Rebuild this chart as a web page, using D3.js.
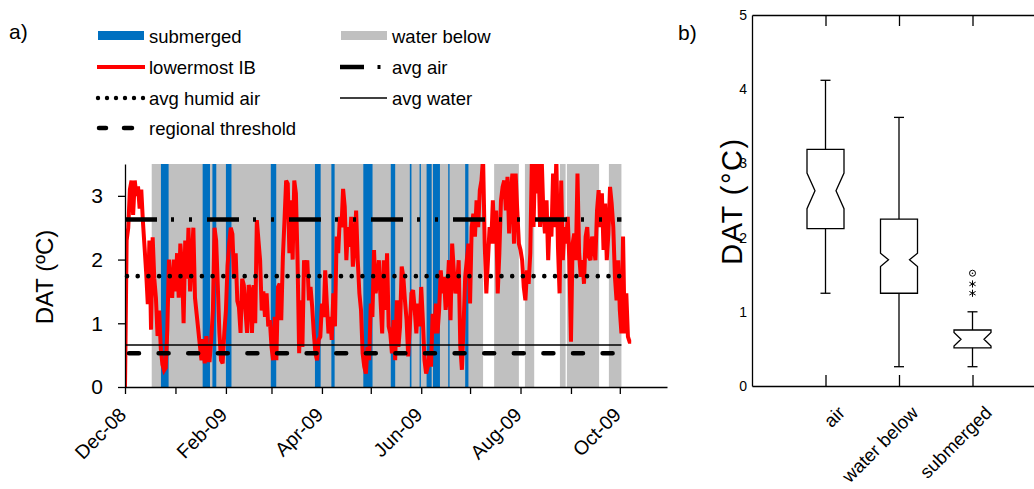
<!DOCTYPE html>
<html><head><meta charset="utf-8">
<script src="https://cdn.jsdelivr.net/npm/d3@7"></script>
<style>
body{margin:0;background:#fff}
svg{display:block}
text{font-family:"Liberation Sans",Arial,sans-serif;fill:#000}
</style>
</head><body>
<svg id="c" width="1034" height="489"></svg>
<script>
// ---------------- DATA ----------------
const seriesStart = "2008-12-01";
// daily DAT of lowermost IB (°C), one value per day from seriesStart
const lowermostIB = [
0.0, 2.3, 2.5, 3.1, 3.24, 2.7, 3.24, 3.0, 3.15, 2.8,
3.1, 2.6, 2.2, 1.8, 1.3, 2.3, 0.9, 2.35, 1.7, 1.4,
0.8, 1.2, 0.6, 0.35, 0.26, 0.3, 0.9, 2.0, 1.6, 1.4,
2.0, 1.5, 2.1, 1.4, 2.25, 1.9, 1.0, 2.3, 1.7, 2.5,
1.5, 2.0, 2.5, 1.4, 1.15, 0.9, 0.65, 0.42, 0.75, 0.37,
0.8, 0.42, 0.42, 0.75, 1.2, 2.5, 2.3, 1.6, 0.85, 0.42,
0.37, 0.85, 1.2, 1.9, 2.25, 2.5, 2.4, 1.7, 2.1, 1.35,
1.25, 0.85, 1.7, 1.6, 1.2, 0.85, 1.6,
1.5, 0.85, 1.6, 1.0, 2.62, 2.3, 1.99, 1.2, 1.5, 1.1,
1.47, 0.95, 1.05, 0.63, 0.42, 1.1, 0.42, 1.57, 1.62, 1.05,
2.04, 2.62, 3.24, 3.19, 2.1, 2.93, 2.0, 3.24, 3.04, 2.0,
0.53, 1.36, 0.63, 1.99, 1.73, 1.99, 1.36, 1.57, 1.26, 0.84,
0.53, 0.42, 0.74, 0.79, 1.31, 1.1, 1.83, 1.31, 0.84, 1.1,
0.74, 1.47, 0.95, 2.36, 2.1, 2.67, 2.51, 3.11, 2.83, 1.99,
2.51, 2.2, 2.67, 1.89, 2.2, 2.77, 1.99, 1.47, 1.21, 0.53,
0.32, 0.21, 0.63, 0.42, 1.31, 1.1, 2.15, 1.47, 1.68, 1.99,
1.36,
0.84, 1.99, 1.21, 2.1, 0.95, 0.84, 0.53, 1.05, 0.42, 1.36,
0.63, 0.95, 1.89, 1.73, 1.36, 1.05, 0.48, 0.95, 1.47, 1.52,
1.21, 0.84, 1.31, 0.95, 1.57, 1.05, 0.42, 0.21, 0.32, 0.53,
0.32, 1.15, 0.84, 1.31, 0.84, 1.21, 1.83, 1.47, 1.73, 1.21,
1.47, 1.99, 1.05, 2.25, 1.83, 1.47, 1.57, 1.99, 0.63, 0.27,
0.95, 1.73, 1.99, 2.25, 1.31, 2.51, 2.72, 2.36, 2.93, 2.51,
3.09, 3.24, 3.6, 2.25, 1.47, 1.99, 2.51, 2.25, 2.93, 2.25,
2.77, 1.47, 2.1, 2.93, 3.14, 3.24, 2.77, 3.3, 2.41,
3.04, 3.35, 2.25, 3.35, 2.77, 2.25, 2.15, 1.99, 1.57, 1.36,
1.83, 1.62, 2.1, 3.6, 2.51, 3.6, 3.04, 3.6, 2.51, 3.6,
2.77, 2.41, 2.93, 1.99, 2.67, 2.36, 3.35, 2.51, 3.6, 2.2,
1.47, 3.24, 1.99, 2.51, 2.25, 2.67, 1.99, 0.71, 2.25, 2.41,
1.99, 3.35, 2.1, 1.73, 1.99, 1.62, 2.36, 2.51, 2.04, 1.99,
2.36, 2.25, 1.99, 2.77, 3.09, 2.51, 3.04, 2.15, 2.88, 1.99,
2.41, 3.14, 2.88, 2.51, 1.73, 1.36, 1.99, 1.21, 0.84, 2.36,
0.84, 1.47, 0.79, 0.71, 0.71
];
const waterBelowPeriods = [
  ["2008-12-17T10:00","2009-07-09T00:00"],
  ["2009-07-15T19:00","2009-07-31T00:00"],
  ["2009-08-03T17:00","2009-08-09T10:00"],
  ["2009-08-25T05:00","2009-08-28T17:00"],
  ["2009-08-29T12:00","2009-09-18T07:00"],
  ["2009-09-24T07:00","2009-10-02T00:00"]
];
const submergedPeriods = [
  ["2008-12-23T02:00","2008-12-27T19:00"],
  ["2009-01-17T17:00","2009-01-22T05:00"],
  ["2009-01-23T17:00","2009-01-26T02:00"],
  ["2009-02-01T00:00","2009-02-04T10:00"],
  ["2009-02-28T14:00","2009-03-03T22:00"],
  ["2009-03-27T17:00","2009-03-31T05:00"],
  ["2009-04-06T19:00","2009-04-08T19:00"],
  ["2009-04-26T10:00","2009-05-02T02:00"],
  ["2009-05-13T07:00","2009-05-16T00:00"],
  ["2009-05-25T00:00","2009-05-26T00:00"],
  ["2009-05-31T00:00","2009-05-31T19:00"],
  ["2009-06-04T07:00","2009-06-07T10:00"],
  ["2009-06-08T05:00","2009-06-12T12:00"],
  ["2009-06-17T14:00","2009-06-18T10:00"],
  ["2009-06-28T00:00","2009-06-30T00:00"]
];
const refSpan = ["2008-12-01T00:00","2009-10-02T00:00"];
const avgAir = 2.63, avgHumidAir = 1.74, avgWater = 0.66, regionalThreshold = 0.53;
const xDomainA = ["2008-12-01T00:00","2009-10-30T00:00"];
const yTicksA = [0,1,2,3];

const boxCategories = ["air","water below","submerged"];
const boxQ1 = [2.12, 1.25, 0.515];
const boxQ3 = [3.19, 2.25, 0.755];
const boxMedian = [2.63, 1.70, 0.63];
const boxNotchLo = [2.39, 1.61, 0.54];
const boxNotchHi = [2.87, 1.79, 0.72];
const whiskerLo = [1.25, 0.26, 0.26];
const whiskerHi = [4.12, 3.62, 1.0];
const outlierStars = [["submerged",1.25],["submerged",1.375]];
const outlierCircles = [["submerged",1.52]];
const yTicksB = [0,1,2,3,4,5];

// ---------------- DRAW ----------------
const svg = d3.select("#c");
const pt = d3.utcParse("%Y-%m-%dT%H:%M");
const t0 = d3.utcParse("%Y-%m-%d")(seriesStart);
const series = lowermostIB.map((v,i)=>({date:d3.utcDay.offset(t0,i), v}));

const BLUE = "#0070c0", GRAY = "#c0c0c0", RED = "#ff0000";

// panel a scales
const x = d3.scaleUtc().domain(xDomainA.map(pt)).range([125, 667]);
const y = d3.scaleLinear().domain([0, 3.5]).range([387, 164]);

svg.append("defs").append("clipPath").attr("id","clipA")
  .append("rect").attr("x",x.range()[0]).attr("y",y(3.5)).attr("width",x.range()[1]-x.range()[0]).attr("height",y(0)-y(3.5));

const gA = svg.append("g");
gA.append("g").selectAll("rect").data(waterBelowPeriods).join("rect")
  .attr("x",d=>x(pt(d[0]))).attr("width",d=>x(pt(d[1]))-x(pt(d[0])))
  .attr("y",y(3.5)).attr("height",y(0)-y(3.5)).attr("fill",GRAY);
gA.append("g").selectAll("rect").data(submergedPeriods).join("rect")
  .attr("x",d=>x(pt(d[0]))).attr("width",d=>x(pt(d[1]))-x(pt(d[0])))
  .attr("y",y(3.5)).attr("height",y(0)-y(3.5)).attr("fill",BLUE);

gA.append("path").datum(series)
  .attr("clip-path","url(#clipA)")
  .attr("d", d3.line().x(d=>x(d.date)).y(d=>y(d.v)))
  .attr("fill","none").attr("stroke",RED).attr("stroke-width",4).attr("stroke-linejoin","miter").attr("stroke-miterlimit",3);

const hLine = v => d3.line().x(d=>x(pt(d))).y(()=>y(v))(refSpan);
gA.append("path").attr("d",hLine(avgAir)).attr("fill","none").attr("stroke","#000")
  .attr("stroke-width",4.5).attr("stroke-dasharray","32 14 3 15 3 15");
gA.append("path").attr("d",hLine(avgHumidAir)).attr("fill","none").attr("stroke","#000")
  .attr("stroke-width",4.6).attr("stroke-linecap","round").attr("stroke-dasharray","0 10.7").attr("stroke-dashoffset",-2);
gA.append("path").attr("d",hLine(avgWater)).attr("fill","none").attr("stroke","#000")
  .attr("stroke-width",1.5);
gA.append("path").attr("d",hLine(regionalThreshold)).attr("fill","none").attr("stroke","#000")
  .attr("stroke-width",4.5).attr("stroke-linecap","round").attr("stroke-dasharray","10 19.6").attr("stroke-dashoffset",-4);

// axes panel a
const fmt = d3.utcFormat("%b-%y");
const xAx = gA.append("g").attr("transform",`translate(0,${y(0)})`)
  .call(d3.axisBottom(x).ticks(d3.utcMonth.every(1)).tickSizeInner(7).tickSizeOuter(0)
    .tickFormat(d => d.getUTCMonth()%2===1 ? fmt(d) : ""));
xAx.selectAll("text").attr("x",0).attr("y",0).attr("dy",null)
  .attr("text-anchor","end").attr("transform","translate(2,29) rotate(-45)")
  .style("font-size","19.5px");
const yAx = gA.append("g").attr("transform",`translate(${x.range()[0]},0)`)
  .call(d3.axisLeft(y).tickValues(yTicksA).tickSizeInner(7).tickSizeOuter(0).tickPadding(15).tickFormat(d3.format("d")));
yAx.selectAll("text").style("font-size","21px");
[xAx,yAx].forEach(a=>{a.select(".domain").attr("stroke","#000").attr("stroke-width",1.3);
  a.selectAll(".tick line").attr("stroke","#000").attr("stroke-width",1.3);
  a.selectAll("text").attr("fill","#000").style("font-family",'"Liberation Sans",Arial,sans-serif');});

svg.append("text").attr("transform","translate(53,277) rotate(-90)").attr("text-anchor","middle")
  .style("font-size","24px").text("DAT (ºC)");
svg.append("text").attr("x",9).attr("y",39).style("font-size","21px").text("a)");

// legend
const lg = svg.append("g");
const FS = "18.5px";
lg.append("rect").attr("x",98).attr("y",31).attr("width",46).attr("height",9).attr("fill",BLUE);
lg.append("text").attr("x",149).attr("y",42.5).style("font-size",FS).text("submerged");
lg.append("rect").attr("x",341).attr("y",31).attr("width",46).attr("height",9).attr("fill",GRAY);
lg.append("text").attr("x",392).attr("y",42.5).style("font-size",FS).text("water below");
lg.append("line").attr("x1",97).attr("x2",145).attr("y1",67).attr("y2",67).attr("stroke",RED).attr("stroke-width",4);
lg.append("text").attr("x",149).attr("y",74).style("font-size",FS).text("lowermost IB");
lg.append("line").attr("x1",340).attr("x2",364).attr("y1",67).attr("y2",67).attr("stroke","#000").attr("stroke-width",4.5);
lg.append("line").attr("x1",377.5).attr("x2",380.5).attr("y1",67).attr("y2",67).attr("stroke","#000").attr("stroke-width",4);
lg.append("text").attr("x",392).attr("y",74).style("font-size",FS).text("avg air");
lg.append("line").attr("x1",98).attr("x2",144).attr("y1",98).attr("y2",98).attr("stroke","#000")
  .attr("stroke-width",4.4).attr("stroke-linecap","round").attr("stroke-dasharray","0 9");
lg.append("text").attr("x",149).attr("y",105).style("font-size",FS).text("avg humid air");
lg.append("line").attr("x1",340).attr("x2",387).attr("y1",98).attr("y2",98).attr("stroke","#000").attr("stroke-width",1.5);
lg.append("text").attr("x",392).attr("y",105).style("font-size",FS).text("avg water");
lg.append("line").attr("x1",99).attr("x2",106).attr("y1",128).attr("y2",128).attr("stroke","#000").attr("stroke-width",4.5).attr("stroke-linecap","round");
lg.append("line").attr("x1",124).attr("x2",132).attr("y1",128).attr("y2",128).attr("stroke","#000").attr("stroke-width",4.5).attr("stroke-linecap","round");
lg.append("text").attr("x",149).attr("y",135).style("font-size",FS).text("regional threshold");

// ---------------- panel b ----------------
const xb = d3.scalePoint().domain(boxCategories).range([752, 1046]).padding(1);
const yb = d3.scaleLinear().domain([0,5]).range([386, 15]);
const gB = svg.append("g");
const bAxB = gB.append("g").attr("transform",`translate(0,${yb(0)})`)
  .call(d3.axisBottom(xb).tickSizeInner(-11).tickSizeOuter(0).tickPadding(0));
bAxB.selectAll("text").attr("x",0).attr("y",0).attr("dy",null).attr("text-anchor","end")
  .attr("transform","translate(20,28) rotate(-45)").style("font-size","18.5px");
const bAxT = gB.append("g").attr("transform",`translate(0,${yb(5)})`)
  .call(d3.axisTop(xb).tickSizeInner(-11).tickSizeOuter(0).tickFormat(""));
const bAxL = gB.append("g").attr("transform",`translate(${xb.range()[0]},0)`)
  .call(d3.axisLeft(yb).tickValues(yTicksB).tickSize(0).tickPadding(5).tickFormat(d3.format("d")));
bAxL.selectAll("text").style("font-size","14px").style("font-family",'"Liberation Sans Narrow","Liberation Sans",Arial,sans-serif');
[bAxB,bAxT,bAxL].forEach(a=>{a.select(".domain").attr("stroke","#000").attr("stroke-width",1.3);
  a.selectAll(".tick line").attr("stroke","#000").attr("stroke-width",1.3);
  a.selectAll("text").attr("fill","#000");});
bAxB.selectAll("text").style("font-family",'"Liberation Sans",Arial,sans-serif');

const hw = 18.5;
boxCategories.forEach((c,i)=>{
  const cx = xb(c);
  const ind = i===2 ? 7 : 8;
  const p = d3.path();
  p.moveTo(cx-hw, yb(boxQ3[i])); p.lineTo(cx+hw, yb(boxQ3[i]));
  p.lineTo(cx+hw, yb(boxNotchHi[i])); p.lineTo(cx+hw-ind, yb(boxMedian[i])); p.lineTo(cx+hw, yb(boxNotchLo[i]));
  p.lineTo(cx+hw, yb(boxQ1[i])); p.lineTo(cx-hw, yb(boxQ1[i]));
  p.lineTo(cx-hw, yb(boxNotchLo[i])); p.lineTo(cx-hw+ind, yb(boxMedian[i])); p.lineTo(cx-hw, yb(boxNotchHi[i]));
  p.closePath();
  gB.append("path").attr("d",p.toString()).attr("fill","#fff").attr("stroke","#000").attr("stroke-width",1.3);
  const seg = (x1,y1,x2,y2)=>gB.append("line").attr("x1",x1).attr("y1",y1).attr("x2",x2).attr("y2",y2).attr("stroke","#000").attr("stroke-width",1.3);
  seg(cx, yb(boxQ3[i]), cx, yb(whiskerHi[i]));
  seg(cx, yb(boxQ1[i]), cx, yb(whiskerLo[i]));
  seg(cx-5, yb(whiskerHi[i]), cx+5, yb(whiskerHi[i]));
  seg(cx-5, yb(whiskerLo[i]), cx+5, yb(whiskerLo[i]));
});
outlierStars.forEach(([c,v])=>{
  const cx = xb(c), cy = yb(v), r = 3.6;
  const g = gB.append("g").attr("stroke","#000").attr("stroke-width",1);
  [0,60,120].forEach(a=>{
    const rad = a*Math.PI/180;
    g.append("line").attr("x1",cx+r*Math.sin(rad)).attr("y1",cy-r*Math.cos(rad))
      .attr("x2",cx-r*Math.sin(rad)).attr("y2",cy+r*Math.cos(rad));
  });
});
outlierCircles.forEach(([c,v])=>{
  gB.append("circle").attr("cx",xb(c)).attr("cy",yb(v)).attr("r",3).attr("fill","none").attr("stroke","#000").attr("stroke-width",1);
  gB.append("circle").attr("cx",xb(c)).attr("cy",yb(v)).attr("r",0.8).attr("fill","#000");
});

svg.append("text").attr("transform","translate(742,201) rotate(-90)").attr("text-anchor","middle")
  .style("font-size","29px").style("letter-spacing","1.5px").text("DAT (°C)");
svg.append("text").attr("x",678).attr("y",40).style("font-size","21px").text("b)");
</script>
</body></html>
